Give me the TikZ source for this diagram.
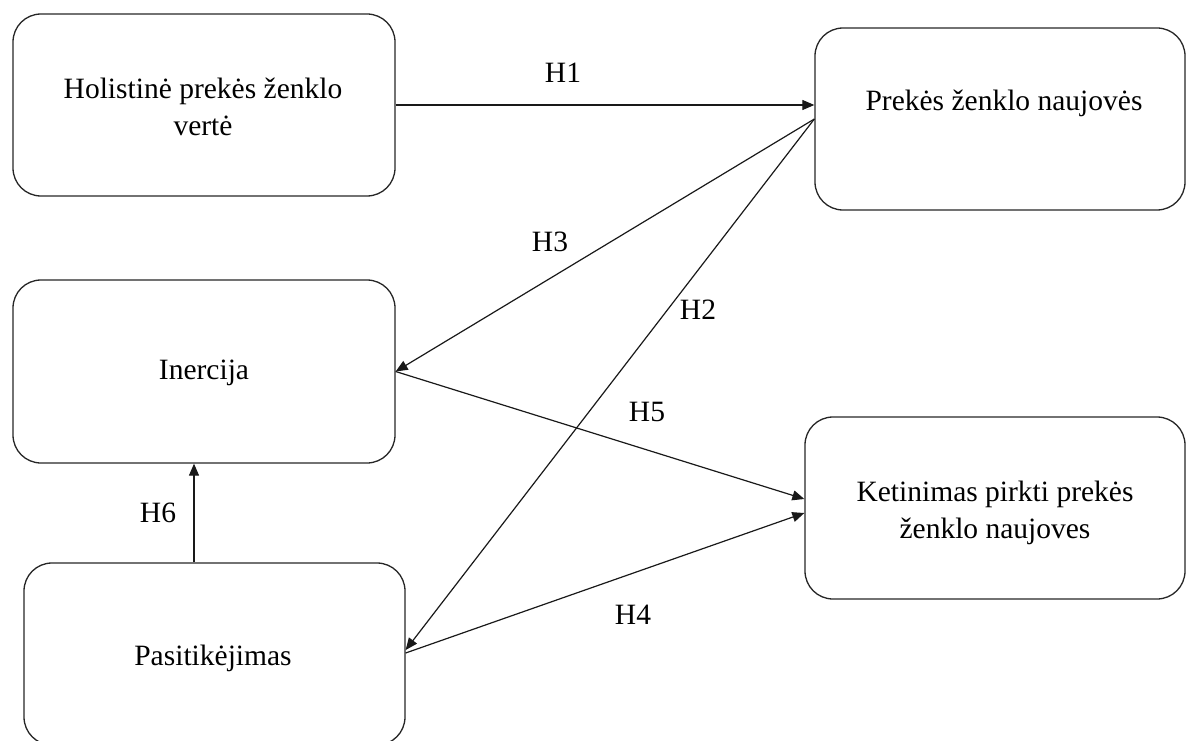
\documentclass[tikz,border=0pt]{standalone}
\usepackage{fontspec}
\setmainfont{Liberation Serif}
\usetikzlibrary{arrows.meta}
\begin{document}
\begin{tikzpicture}[x=1pt,y=-1pt,
  box/.style={draw=black!85, line width=1.3pt, rounded corners=28pt, inner sep=0pt},
  txt/.style={font=\fontsize{29.5}{37}\selectfont, align=center, inner sep=0pt},
  hlab/.style={font=\fontsize{29.5}{37}\selectfont, inner sep=0pt},
  arr/.style={draw=black!90, line width=1.2pt, -{Triangle[length=12pt,width=10pt]}}]
\useasboundingbox (0,0) rectangle (1186,741);
% boxes
\node[box, minimum width=382pt, minimum height=182pt] (b1) at (204,105) {};
\node[box, minimum width=370pt, minimum height=182pt] (b2) at (1000,119) {};
\node[box, minimum width=382pt, minimum height=183pt] (b3) at (204,371.5) {};
\node[box, minimum width=380pt, minimum height=182pt] (b4) at (995,508) {};
\node[box, minimum width=381pt, minimum height=182pt] (b5) at (214.5,654) {};
% texts
\node[txt] (t1) at (203,107) {Holistinė prekės ženklo\\vertė};
\node[txt] (t2) at (1004,103) {Prekės ženklo naujovės};
\node[txt] (t3) at (204,373) {Inercija};
\node[txt] (t4) at (995,513) {Ketinimas pirkti prekės\\ženklo naujoves};
\node[txt] (t5) at (213,658) {Pasitikėjimas};
% connectors
\draw[arr] (b1.east) -- (b1.east -| b2.west);
\draw[arr] (b2.west) -- (b3.east);
\draw[arr] (b2.west) -- ([yshift=4pt]b5.east);
\draw[arr] (b3.east) -- ([yshift=9pt]b4.west);
\draw[arr] ([yshift=1pt]b5.east) -- ([yshift=-5pt]b4.west);
\draw[arr] ([xshift=-20.5pt]b5.north) -- ([xshift=-20.5pt]b5.north |- b3.south);
% labels
\node[hlab] (h1) at (563,73) {H1};
\node[hlab] (h3) at (550,242) {H3};
\node[hlab] (h2) at (698,310) {H2};
\node[hlab] (h5) at (647,412) {H5};
\node[hlab] (h4) at (633,615) {H4};
\node[hlab] (h6) at (158,513) {H6};
\end{tikzpicture}
\end{document}
